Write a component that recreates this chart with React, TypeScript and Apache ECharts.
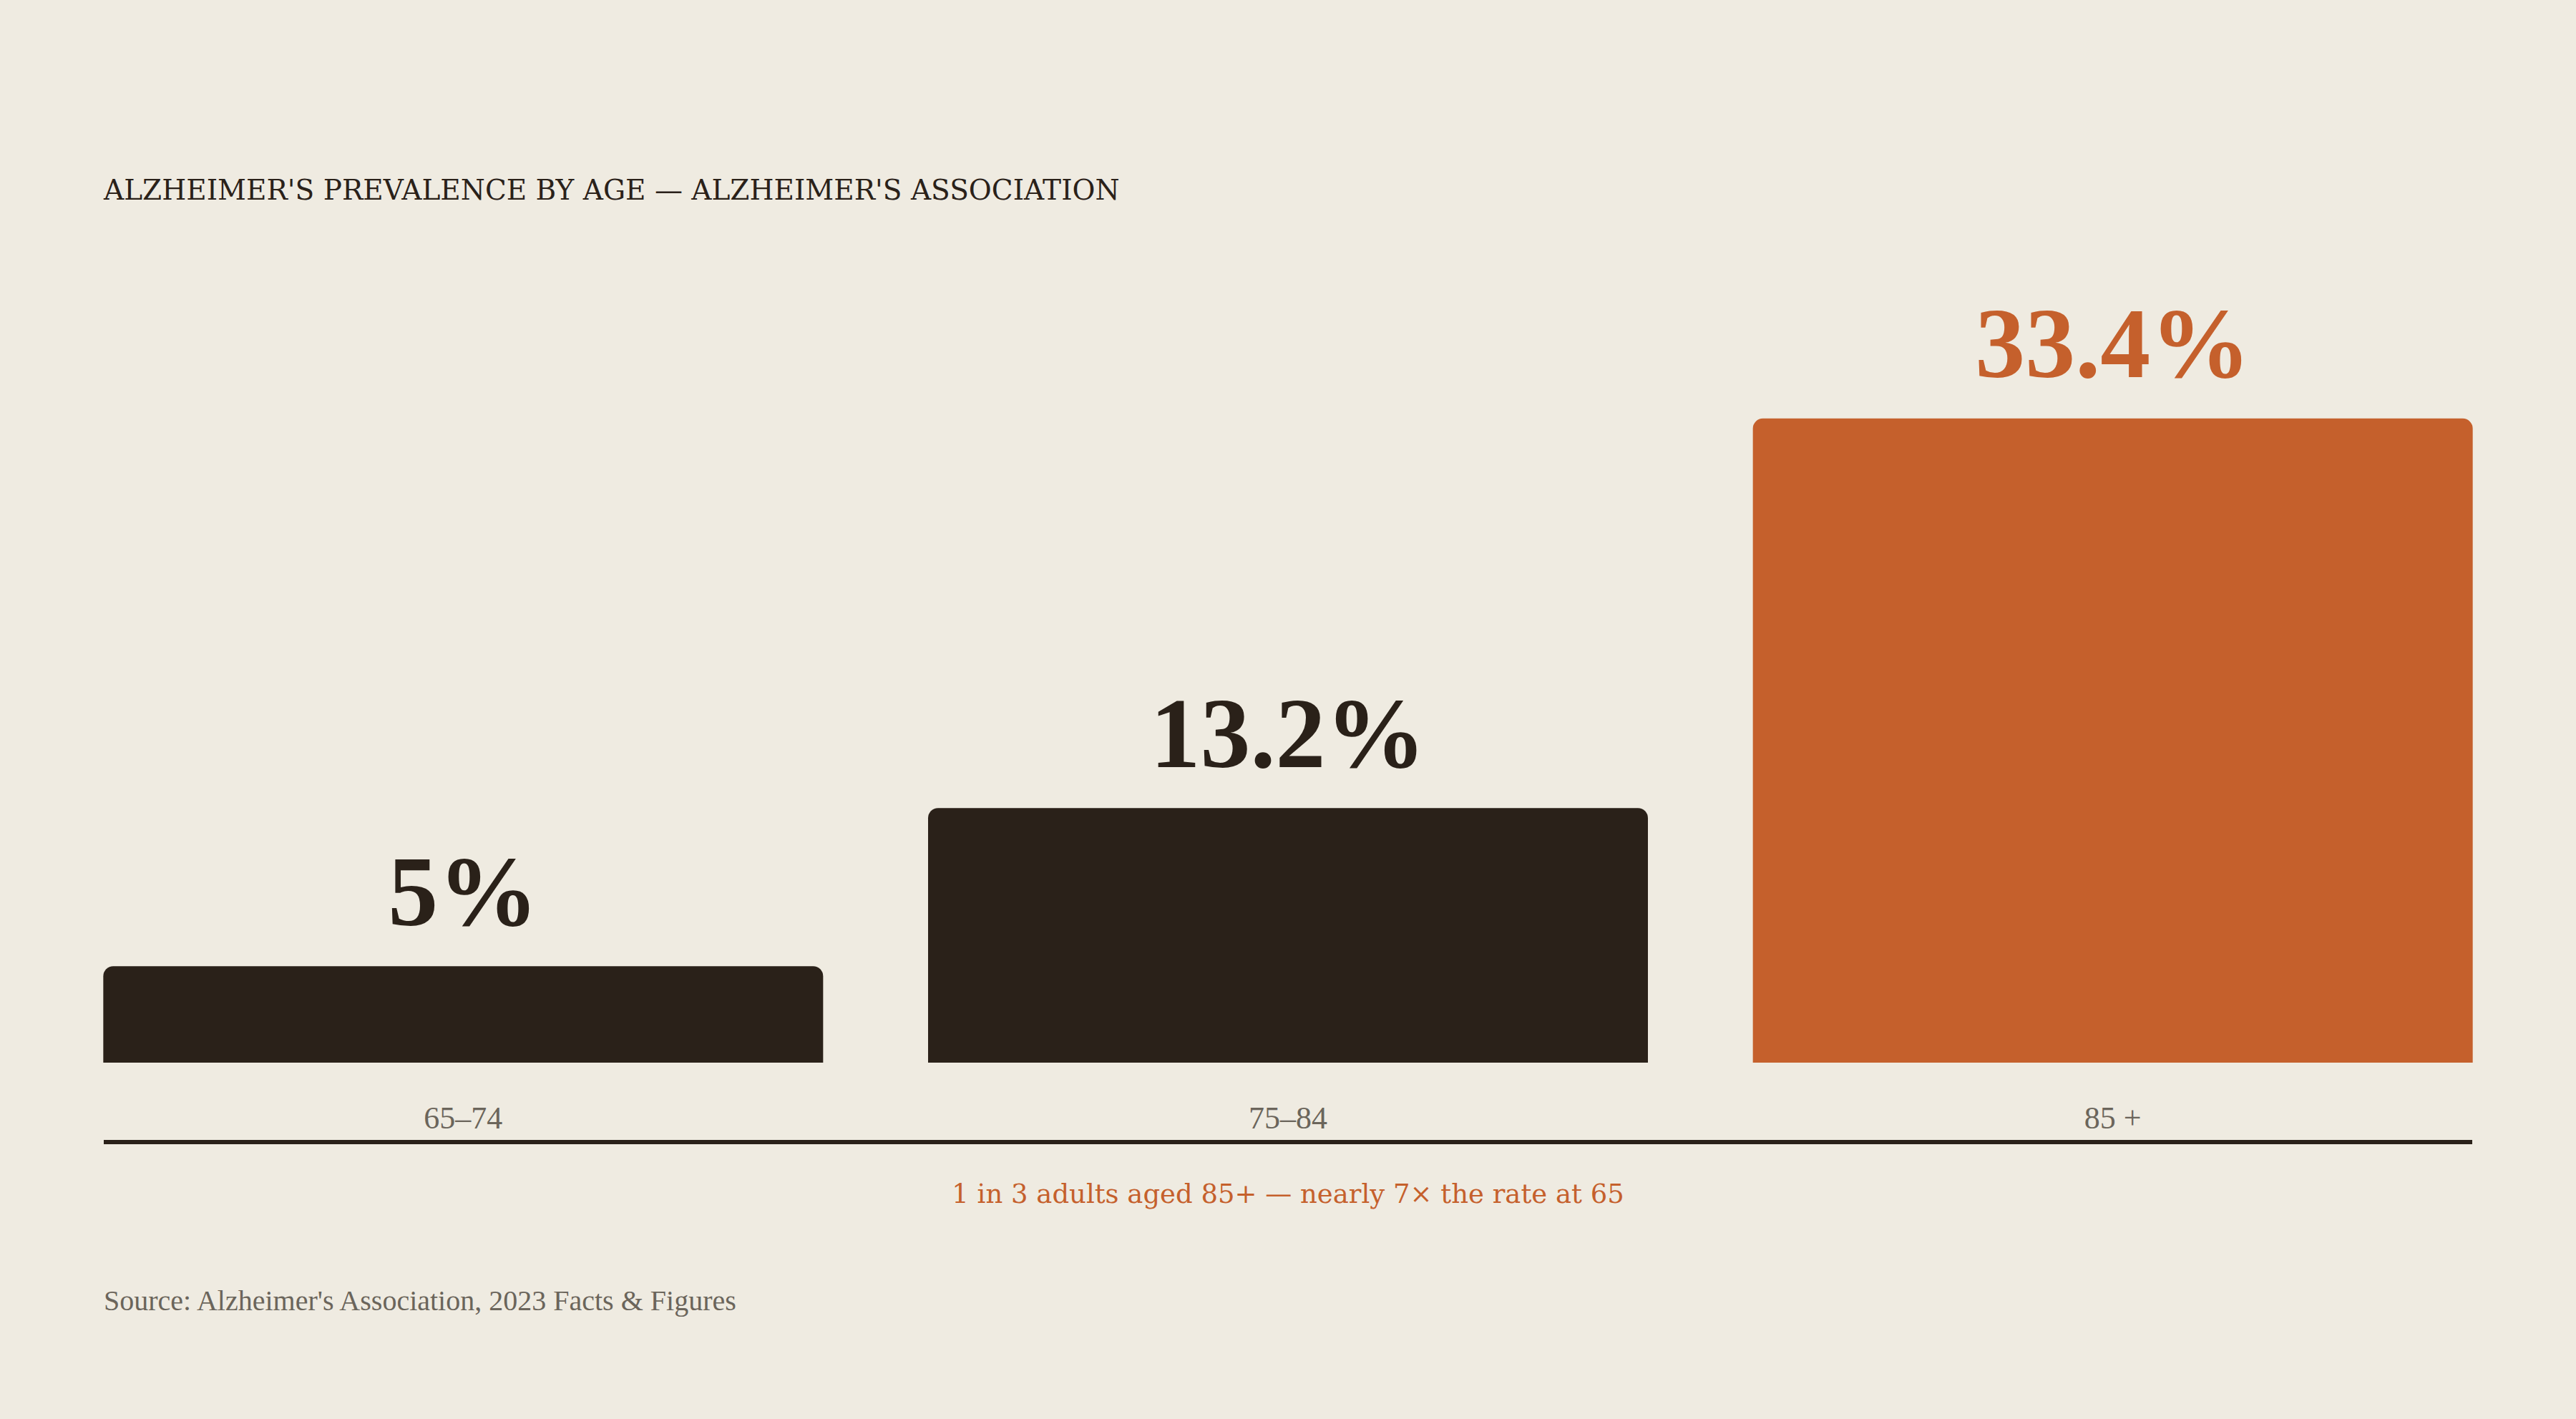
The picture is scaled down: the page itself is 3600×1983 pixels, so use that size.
import * as echarts from 'echarts';
import { useEffect, useRef } from 'react';

// data
const ageGroups = ['65–74', '75–84', '85 +'];
const prevalence = [5, 13.2, 33.4];
const highlightIndex = 2;

const titleText = "ALZHEIMER'S PREVALENCE BY AGE — ALZHEIMER'S ASSOCIATION";
const noteText = '1 in 3 adults aged 85+ — nearly 7× the rate at 65';
const sourceText = "Source: Alzheimer's Association, 2023 Facts & Figures";

const BG = '#EFEBE1';
const INK = '#2A2119';
const ACCENT = '#C5602C';
const MUTED = '#6B655B';
const FONT = '"Liberation Serif", "DejaVu Serif", serif';
const WIDE_FONT = '"DejaVu Serif", "Liberation Serif", serif';

export default function App() {
  const elRef = useRef<HTMLDivElement | null>(null);

  useEffect(() => {
    document.body.style.margin = '0';
    document.body.style.background = BG;
    if (!elRef.current) return;

    const chart = echarts.init(elRef.current, undefined, { renderer: 'svg' });

    const colorAt = (i: number) => (i === highlightIndex ? ACCENT : INK);

    chart.setOption({
      animation: false,
      backgroundColor: BG,
      grid: { left: 71, right: 71, top: 407, bottom: 498 },
      xAxis: {
        type: 'category',
        data: ageGroups,
        axisLine: { show: false },
        axisTick: { show: false },
        axisLabel: {
          color: MUTED,
          fontFamily: FONT,
          fontSize: 44,
          margin: 55
        }
      },
      yAxis: {
        type: 'value',
        min: 0,
        max: 40,
        show: false,
        splitLine: { show: false }
      },
      series: [
        {
          type: 'bar',
          barWidth: 1006,
          data: prevalence.map((v, i) => ({
            value: v,
            itemStyle: { color: colorAt(i), borderRadius: [14, 14, 0, 0] },
            label: { color: colorAt(i) }
          })),
          label: {
            show: true,
            position: 'top',
            distance: 35,
            fontFamily: FONT,
            fontWeight: 'bold',
            fontSize: 140,
            lineHeight: 140,
            formatter: (p: any) => `${p.value}%`
          }
        }
      ],
      graphic: [
        {
          type: 'text',
          left: 145,
          top: 246,
          style: {
            text: titleText,
            fill: INK,
            font: `400 39px ${WIDE_FONT}`
          }
        },
        {
          type: 'line',
          shape: { x1: 145, y1: 1596, x2: 3455, y2: 1596 },
          style: { stroke: INK, lineWidth: 6 }
        },
        {
          type: 'text',
          left: 'center',
          top: 1650,
          style: {
            text: noteText,
            fill: ACCENT,
            font: `400 37px ${WIDE_FONT}`
          }
        },
        {
          type: 'text',
          left: 145,
          top: 1797,
          style: {
            text: sourceText,
            fill: MUTED,
            font: `400 40px ${FONT}`
          }
        }
      ]
    });

    return () => {
      chart.dispose();
    };
  }, []);

  return <div ref={elRef} style={{ position: 'absolute', left: 0, top: 0, width: 3600, height: 1983 }} />;
}
